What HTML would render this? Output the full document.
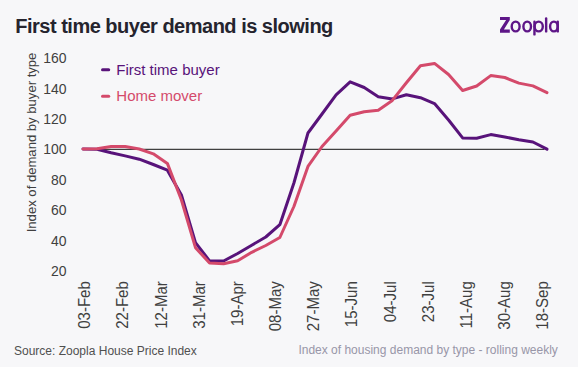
<!DOCTYPE html>
<html><head><meta charset="utf-8">
<style>
html,body{margin:0;padding:0;}
body{width:578px;height:367px;background:#f7f7f9;overflow:hidden;position:relative;font-family:"Liberation Sans",sans-serif;}
svg{position:absolute;left:0;top:0;}
</style></head><body>
<svg width="578" height="367" viewBox="0 0 578 367">
<rect x="0" y="0" width="578" height="367" fill="#f7f7f9"/>
<text x="15.3" y="32.5" font-family="Liberation Sans" font-weight="bold" font-size="20" letter-spacing="-0.5" fill="#25242e">First time buyer demand is slowing</text>
<g fill="none" stroke="#5e1688" stroke-linecap="round" stroke-linejoin="round" stroke-width="2.4">
<polygon points="500,17 509.8,17 509.8,20.1 503.9,29.6 509.8,29.6 509.8,32.7 500,32.7 500,29.6 506.1,20.1 500,20.1" fill="#5e1688" stroke="none"/>
<ellipse cx="515.65" cy="26.5" rx="3.95" ry="4.9"/>
<ellipse cx="527.2" cy="26.5" rx="3.8" ry="4.9"/>
<path d="M534.45 21.7 V34.4"/>
<ellipse cx="538.7" cy="26.5" rx="4.1" ry="4.9"/>
<path d="M546.15 18.5 V31.4"/>
<ellipse cx="553.9" cy="26.5" rx="3.8" ry="4.9"/>
<path d="M557.75 21.8 V31.4"/>
</g>
<text transform="translate(36.2,232.3) rotate(-90) scale(0.985,1)" font-size="13.3" fill="#404040">Index of demand by buyer type</text>
<g font-size="15.2" fill="#404040">
<text transform="translate(66.5,58.00) scale(0.92,1)" text-anchor="end" dominant-baseline="central">160</text>
<text transform="translate(66.5,88.40) scale(0.92,1)" text-anchor="end" dominant-baseline="central">140</text>
<text transform="translate(66.5,118.80) scale(0.92,1)" text-anchor="end" dominant-baseline="central">120</text>
<text transform="translate(66.5,149.20) scale(0.92,1)" text-anchor="end" dominant-baseline="central">100</text>
<text transform="translate(66.5,179.60) scale(0.92,1)" text-anchor="end" dominant-baseline="central">80</text>
<text transform="translate(66.5,210.00) scale(0.92,1)" text-anchor="end" dominant-baseline="central">60</text>
<text transform="translate(66.5,240.40) scale(0.92,1)" text-anchor="end" dominant-baseline="central">40</text>
<text transform="translate(66.5,270.80) scale(0.92,1)" text-anchor="end" dominant-baseline="central">20</text>
</g>
<g font-size="16" fill="#404040">
<text transform="translate(84.60,281.2) rotate(-90) scale(0.94,1)" x="0" y="0" text-anchor="end" dominant-baseline="central">03-Feb</text>
<text transform="translate(122.77,281.2) rotate(-90) scale(0.94,1)" x="0" y="0" text-anchor="end" dominant-baseline="central">22-Feb</text>
<text transform="translate(160.94,281.2) rotate(-90) scale(0.94,1)" x="0" y="0" text-anchor="end" dominant-baseline="central">12-Mar</text>
<text transform="translate(199.11,281.2) rotate(-90) scale(0.94,1)" x="0" y="0" text-anchor="end" dominant-baseline="central">31-Mar</text>
<text transform="translate(237.28,281.2) rotate(-90) scale(0.94,1)" x="0" y="0" text-anchor="end" dominant-baseline="central">19-Apr</text>
<text transform="translate(275.45,281.2) rotate(-90) scale(0.94,1)" x="0" y="0" text-anchor="end" dominant-baseline="central">08-May</text>
<text transform="translate(313.62,281.2) rotate(-90) scale(0.94,1)" x="0" y="0" text-anchor="end" dominant-baseline="central">27-May</text>
<text transform="translate(351.79,281.2) rotate(-90) scale(0.94,1)" x="0" y="0" text-anchor="end" dominant-baseline="central">15-Jun</text>
<text transform="translate(389.96,281.2) rotate(-90) scale(0.94,1)" x="0" y="0" text-anchor="end" dominant-baseline="central">04-Jul</text>
<text transform="translate(428.13,281.2) rotate(-90) scale(0.94,1)" x="0" y="0" text-anchor="end" dominant-baseline="central">23-Jul</text>
<text transform="translate(466.30,281.2) rotate(-90) scale(0.94,1)" x="0" y="0" text-anchor="end" dominant-baseline="central">11-Aug</text>
<text transform="translate(504.47,281.2) rotate(-90) scale(0.94,1)" x="0" y="0" text-anchor="end" dominant-baseline="central">30-Aug</text>
<text transform="translate(542.64,281.2) rotate(-90) scale(0.94,1)" x="0" y="0" text-anchor="end" dominant-baseline="central">18-Sep</text>
</g>
<line x1="82" y1="149.45" x2="544.5" y2="149.45" stroke="#404040" stroke-width="1.3"/>
<polyline points="83.00,149.00 97.06,149.20 111.12,152.80 125.18,155.90 139.24,159.20 153.30,164.50 167.36,170.20 181.42,195.00 195.48,242.60 209.54,260.80 223.60,261.00 237.66,253.50 251.72,245.20 265.78,237.00 279.84,224.70 293.90,183.00 307.96,133.00 322.02,114.00 336.08,94.80 350.14,81.80 364.20,87.50 378.26,96.70 392.32,98.90 406.38,94.80 420.44,97.70 434.50,103.60 448.56,120.00 462.62,137.90 476.68,138.30 490.74,134.60 504.80,137.00 518.86,139.70 532.92,142.00 546.98,149.20" fill="none" stroke="#58137a" stroke-width="3" stroke-linejoin="round" stroke-linecap="round"/>
<polyline points="83.00,149.00 97.06,148.80 111.12,146.40 125.18,146.50 139.24,149.00 153.30,153.80 167.36,163.40 181.42,200.00 195.48,247.70 209.54,263.00 223.60,263.80 237.66,260.70 251.72,252.30 265.78,245.50 279.84,237.50 293.90,206.50 307.96,166.40 322.02,146.50 336.08,131.00 350.14,115.30 364.20,111.80 378.26,110.20 392.32,100.40 406.38,82.80 420.44,65.80 434.50,63.40 448.56,74.50 462.62,90.50 476.68,86.00 490.74,75.60 504.80,77.50 518.86,83.10 532.92,85.90 546.98,92.70" fill="none" stroke="#d44a6b" stroke-width="3" stroke-linejoin="round" stroke-linecap="round"/>
<line x1="102.5" y1="69.7" x2="108.7" y2="69.7" stroke="#58137a" stroke-width="3" stroke-linecap="round"/>
<line x1="102.5" y1="96.3" x2="108.7" y2="96.3" stroke="#d44a6b" stroke-width="3" stroke-linecap="round"/>
<text x="116.3" y="74.9" font-size="15" fill="#58137a">First time buyer</text>
<text x="116.3" y="101" font-size="15" fill="#d44a6b">Home mover</text>
<text x="14" y="355" font-size="12" fill="#505050">Source: Zoopla House Price Index</text>
<text x="298.4" y="354" font-size="12" fill="#9896a8">Index of housing demand by type - rolling weekly</text>
</svg>
</body></html>
